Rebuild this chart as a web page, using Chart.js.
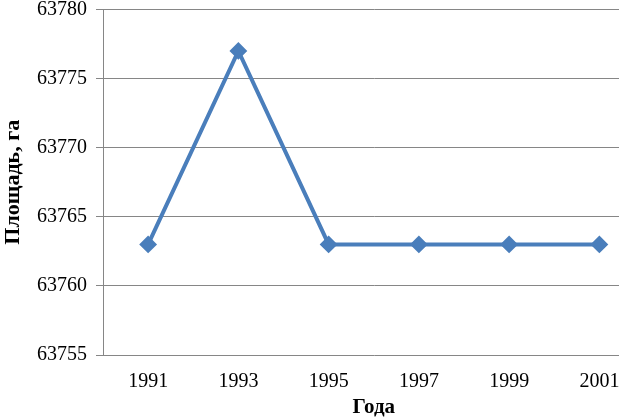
<!DOCTYPE html>
<html>
<head>
<meta charset="utf-8">
<script src="https://cdn.jsdelivr.net/npm/chart.js@4"></script>
<style>
  html, body { margin: 0; padding: 0; background: #fff; overflow: hidden; }
  #wrap { width: 619px; height: 420px; overflow: hidden; }
  #box { width: 654px; height: 420px; }
</style>
</head>
<body>
<div id="wrap"><div id="box"><canvas id="chart"></canvas></div></div>
<script>
const years = ["1991", "1993", "1995", "1997", "1999", "2001"];
const area = [63763, 63777, 63763, 63763, 63763, 63763];
const yMin = 63755;
const yMax = 63780;
const yStep = 5;

const font = "Liberation Serif";

new Chart(document.getElementById("chart"), {
  type: "line",
  data: {
    labels: years,
    datasets: [{
      data: area,
      borderColor: "#4a7ebb",
      backgroundColor: "#4a7ebb",
      borderWidth: 4,
      tension: 0,
      pointStyle: "rectRot",
      pointRadius: 7.5,
      pointHoverRadius: 7.5,
      pointBorderWidth: 2,
      pointBackgroundColor: "#4a7ebb",
      pointBorderColor: "#4a7ebb"
    }]
  },
  options: {
    responsive: true,
    maintainAspectRatio: false,
    animation: false,
    layout: { padding: { top: 7, right: 3, left: 0, bottom: 0 } },
    plugins: { legend: { display: false }, tooltip: { enabled: false } },
    scales: {
      x: {
        offset: true,
        grid: { display: false, drawTicks: false },
        border: { display: false },
        ticks: { color: "#000", font: { family: font, size: 20 }, padding: 15, maxRotation: 0 },
        title: { display: true, text: "Года", color: "#000", font: { family: font, size: 21, weight: "bold" }, padding: { top: 0, bottom: 0 } },
        afterFit: s => { s.height = 65; s.paddingLeft = 0; s.paddingRight = 0; }
      },
      y: {
        min: yMin,
        max: yMax,
        ticks: {
          stepSize: yStep, color: "#000", font: { family: font, size: 20 }, padding: 9,
          callback: v => String(v)
        },
        grid: { color: "#868686", lineWidth: 1, tickLength: 7 },
        border: { display: true, color: "#868686", width: 1 },
        title: { display: true, text: "Площадь, га", color: "#000", font: { family: font, size: 22, weight: "bold" }, padding: { top: 0, bottom: 2 } },
        afterFit: s => { s.width = 103; s.paddingTop = 0; s.paddingBottom = 0; }
      }
    }
  }
});
</script>
</body>
</html>
